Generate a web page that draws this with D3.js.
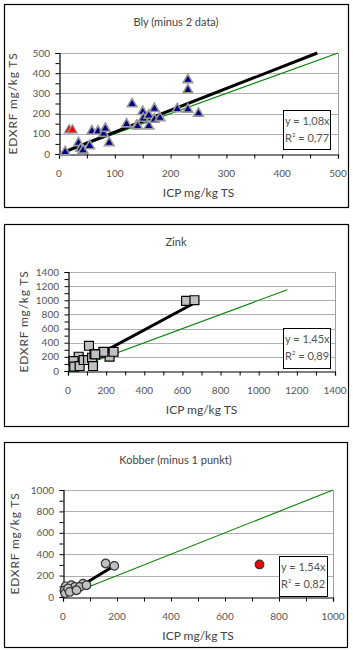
<!DOCTYPE html>
<html>
<head>
<meta charset="utf-8">
<script src="https://cdn.jsdelivr.net/npm/d3@7"></script>
<style>
  body { margin: 0; background: #fff; }
  svg { display: block; font-family: Lato, "Open Sans", sans-serif; }
</style>
</head>
<body>
<svg id="chart" width="353" height="651"></svg>
<script>
// Bly (lead) - ICP vs EDXRF
var blyIcp    = [11, 35, 39, 43, 55, 59, 70, 80, 83, 90, 121, 131, 139, 141, 150, 151, 161, 161, 171, 171, 181, 212, 231, 231, 231, 250];
var blyEdxrf  = [10, 55, 27, 18, 40, 113, 113, 101, 126, 55, 148, 248, 140, 138, 209, 176, 191, 138, 224, 171, 179, 223, 367, 317, 221, 201];
var blyOutIcp   = [18, 24];
var blyOutEdxrf = [118, 118];

// Zink
var zinkIcp   = [619, 663, 110, 56, 29, 33, 61, 82, 105, 126, 139, 131, 186, 218, 239, 186, 143];
var zinkEdxrf = [991, 1001, 357, 202, 141, 61, 70, 155, 155, 188, 240, 70, 258, 202, 272, 272, 235];

// Kobber
var kobberIcp   = [158, 190, 74, 10, 5, 8, 31, 44, 19, 62, 87, 25, 50];
var kobberEdxrf = [313, 291, 125, 100, 60, 35, 110, 94, 79, 94, 110, 47, 63];
var kobberOutIcp   = [728];
var kobberOutEdxrf = [304];

var titles = ["Bly (minus 2 data)", "Zink", "Kobber (minus 1 punkt)"];
var slopes = [1.08, 1.45, 1.54];
var slopeLabels = ["1,08x", "1,45x", "1,54x"];
var r2Labels = ["0,77", "0,89", "0,82"];
var trendFrom = [8, 25, 4];
var trendTo = [500, 663, 190];
var identityTo = [500, 1150, 1000];
var axisMax = [500, 1400, 1000];
var tickStep = [100, 200, 200];

var panels = [
  { box: [4, 4, 344, 203], plot: [59, 53, 338, 154], ylabX: 13, marker: "triangle",
    x: blyIcp, y: blyEdxrf, ox: blyOutIcp, oy: blyOutEdxrf, eq: [283, 110, 47, 39] },
  { box: [4, 224, 344, 202], plot: [68, 272, 335, 371], ylabX: 24, marker: "square",
    x: zinkIcp, y: zinkEdxrf, ox: [], oy: [], eq: [283, 328, 47, 40] },
  { box: [4, 442, 343, 205], plot: [63, 490, 333, 597], ylabX: 15, marker: "circle",
    x: kobberIcp, y: kobberEdxrf, ox: kobberOutIcp, oy: kobberOutEdxrf, eq: [279, 556, 48, 40] }
];

var svg = d3.select('#chart');

panels.forEach(function(p, i) {
  var g = svg.append('g');
  var l = p.plot[0], t = p.plot[1], r = p.plot[2], b = p.plot[3];

  g.append('rect')
    .attr('x', p.box[0] + 0.5).attr('y', p.box[1] + 0.5)
    .attr('width', p.box[2]).attr('height', p.box[3])
    .attr('fill', '#fff').attr('stroke', '#000').attr('stroke-width', 1.2);

  var x = d3.scaleLinear().domain([0, axisMax[i]]).range([l, r]);
  var y = d3.scaleLinear().domain([0, axisMax[i]]).range([b, t]);
  var ticks = d3.range(0, axisMax[i] + 1, tickStep[i]);
  var minor = d3.range(0, axisMax[i] + 1, tickStep[i] / 2);

  // gridlines
  g.selectAll('.grid').data(ticks.slice(1)).enter().append('line')
    .attr('x1', l).attr('x2', r)
    .attr('y1', function(d) { return Math.round(y(d)) + 0.5; })
    .attr('y2', function(d) { return Math.round(y(d)) + 0.5; })
    .attr('stroke', '#b0b0b0').attr('stroke-width', 1);
  g.append('line')
    .attr('x1', r + 0.5).attr('x2', r + 0.5).attr('y1', t).attr('y2', b)
    .attr('stroke', '#a0a0a0');

  // axes
  var yAxis = d3.axisLeft(y).tickValues(minor).tickSize(4).tickFormat('');
  var xAxis = d3.axisBottom(x).tickValues(minor).tickSize(4).tickFormat('');
  var ya = g.append('g').attr('transform', 'translate(' + (l + 0.5) + ',0)').call(yAxis);
  var xa = g.append('g').attr('transform', 'translate(0,' + (b + 0.5) + ')').call(xAxis);
  [ya, xa].forEach(function(a) {
    a.select('.domain').attr('stroke', '#000').attr('stroke-width', 1.2);
    a.selectAll('.tick line').attr('stroke', '#000');
  });

  g.selectAll('.ylab').data(ticks).enter().append('text')
    .attr('x', l - 9).attr('y', function(d) { return y(d) + 3.5; })
    .attr('text-anchor', 'end').attr('font-size', 10).attr('fill', '#555')
    .text(function(d) { return d; });
  g.selectAll('.xlab').data(ticks).enter().append('text')
    .attr('x', function(d) { return x(d); }).attr('y', b + 23)
    .attr('text-anchor', 'middle').attr('font-size', 10).attr('fill', '#555')
    .text(function(d) { return d; });

  // titles
  var cx = (l + r) / 2;
  g.append('text').attr('x', (p.box[0] + p.box[0] + p.box[2]) / 2).attr('y', p.box[1] + 22)
    .attr('text-anchor', 'middle').attr('font-size', 11).attr('fill', '#444').text(titles[i]);
  g.append('text').attr('x', cx).attr('y', b + 43)
    .attr('text-anchor', 'middle').attr('font-size', 12).attr('fill', '#444').text('ICP mg/kg TS');
  g.append('text')
    .attr('transform', 'translate(' + p.ylabX + ',' + ((t + b) / 2) + ') rotate(-90)')
    .attr('text-anchor', 'middle').attr('dy', '0.35em').attr('font-size', 12)
    .attr('letter-spacing', 0.8).attr('fill', '#444')
    .text('EDXRF mg/kg TS');

  // identity line y = x
  var line = d3.line().x(function(d) { return x(d[0]); }).y(function(d) { return y(d[1]); });
  g.append('path').datum([[0, 0], [identityTo[i], identityTo[i]]])
    .attr('d', line).attr('stroke', '#008000').attr('stroke-width', 1.1).attr('fill', 'none');

  // trendline
  var tEnd = Math.min(trendTo[i], axisMax[i] / slopes[i]);
  g.append('path').datum([[trendFrom[i], trendFrom[i] * slopes[i]], [tEnd, tEnd * slopes[i]]])
    .attr('d', line).attr('stroke', '#000').attr('stroke-width', 3).attr('fill', 'none');

  // markers
  var pts = p.x.map(function(v, k) { return [v, p.y[k]]; });
  var out = p.ox.map(function(v, k) { return [v, p.oy[k]]; });
  var sym;
  if (p.marker === 'triangle') sym = d3.symbol(d3.symbolTriangle, 40);
  else if (p.marker === 'square') sym = d3.symbol(d3.symbolSquare, 80);
  else sym = d3.symbol(d3.symbolCircle, 58);

  var fill = { triangle: '#000080', square: '#c0c0c0', circle: '#c0c0c0' }[p.marker];
  var stroke = { triangle: '#999', square: '#000', circle: '#333' }[p.marker];

  g.selectAll('.pt').data(pts).enter().append('path')
    .attr('d', sym)
    .attr('transform', function(d) { return 'translate(' + x(d[0]) + ',' + y(d[1]) + ')'; })
    .attr('fill', fill).attr('stroke', stroke).attr('stroke-width', p.marker === 'triangle' ? 1.6 : 1.2);

  g.selectAll('.out').data(out).enter().append('path')
    .attr('d', sym)
    .attr('transform', function(d) { return 'translate(' + x(d[0]) + ',' + y(d[1]) + ')'; })
    .attr('fill', '#ff0000').attr('stroke', p.marker === 'triangle' ? '#999' : '#333')
    .attr('stroke-width', 1.2);

  // equation box
  var e = p.eq;
  g.append('rect').attr('x', e[0] + 0.5).attr('y', e[1] + 0.5).attr('width', e[2]).attr('height', e[3])
    .attr('fill', '#fff').attr('stroke', '#000').attr('stroke-width', 1);
  g.append('text').attr('x', e[0] + 2).attr('y', e[1] + 15)
    .attr('font-size', 11).attr('fill', '#555').text('y = ' + slopeLabels[i]);
  var rt = g.append('text').attr('x', e[0] + 2).attr('y', e[1] + 32)
    .attr('font-size', 11).attr('fill', '#555');
  rt.append('tspan').text('R');
  rt.append('tspan').attr('font-size', 6).attr('dy', -5).text('2');
  rt.append('tspan').attr('dy', 5).text(' = ' + r2Labels[i]);
});
</script>
</body>
</html>
